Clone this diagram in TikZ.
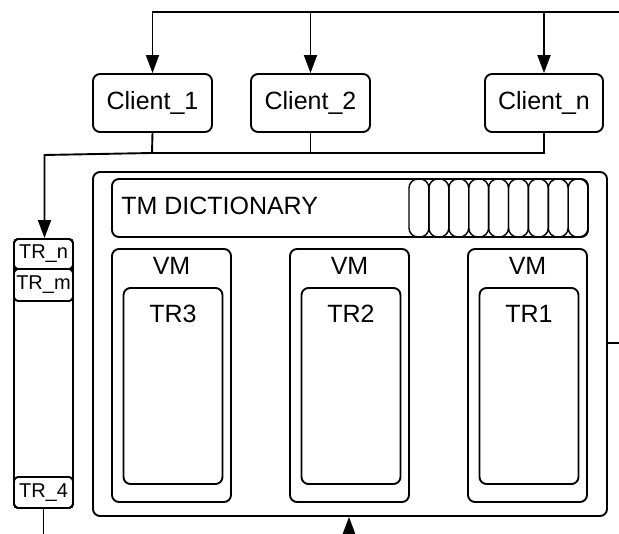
\documentclass[tikz,border=0pt]{standalone}
\usepackage{fontspec}
\setmainfont{Liberation Sans}
\usetikzlibrary{arrows.meta}

\tikzset{
  box/.style={draw,line width=1.9pt,rounded corners=7pt,inner sep=0pt},
  slot/.style={draw,line width=1.4pt,rounded corners=9pt,inner sep=0pt,minimum width=19.9pt,minimum height=58pt},
  wire/.style={line width=1.9pt},
  arr/.style={line width=1.9pt,-{Triangle[length=18pt,width=13pt]}},
  big/.style={font=\fontsize{25}{29}\selectfont},
  small/.style={font=\fontsize{20}{24}\selectfont}
}

\begin{document}
\begin{tikzpicture}[x=1pt,y=-1pt]
\useasboundingbox (0,0) rectangle (619,534);
\node[box,big,minimum width=119pt,minimum height=58pt] (c1) at (152.5,103) {Client\_1};
\node[box,big,minimum width=119pt,minimum height=58pt] (c2) at (310.5,103) {Client\_2};
\node[box,big,minimum width=118pt,minimum height=58pt] (cn) at (544,103) {Client\_n};
\coordinate (top) at (619,12);
\draw[arr] (top) -| (c1.north);
\draw[arr] (top) -| (c2.north);
\draw[arr] (top) -| (cn.north);
% queue on the left
\node[box,rounded corners=4pt,minimum width=59pt,minimum height=269pt] (queue) at (43.5,373.5) {};
\node[box,small,rounded corners=4pt,minimum width=59pt,minimum height=30pt] (trn) at (43.5,254) {TR\_n};
\node[box,small,rounded corners=4pt,minimum width=59pt,minimum height=32pt] (trm) at (43.5,285) {TR\_m};
\node[box,small,rounded corners=4pt,minimum width=59pt,minimum height=31pt] (trf) at (43.5,492.5) {TR\_4};
\coordinate (join) at (152,153);
\coordinate (bend) at (44.5,155);
\draw[wire] (cn.south) |- (join);
\draw[wire] (c2.south) -- (c2.south |- join);
\draw[wire] (c1.south) -- (join);
\draw[arr] (join) -- (bend) -- (bend |- trn.north);
\coordinate (out) at (43.5,534);
\draw[wire] (trf.south) -- (out);
% system
\node[box,minimum width=514pt,minimum height=344pt] (sys) at (350,344) {};
\node[box,minimum width=476pt,minimum height=58pt] (dict) at (350,208) {};
\node[anchor=west,inner sep=0pt,big] (dicttxt) at ([xshift=10pt,yshift=2pt]dict.west) {TM DICTIONARY};
\foreach \i in {0,...,8}
  \node[slot] (slot\i) at (418.95+19.9*\i,208) {};
\foreach \x/\n in {171.5/3,349.5/2,527.5/1} {
  \node[box,minimum width=119pt,minimum height=253pt] (vm\n) at (\x,375.5) {};
  \node[big,inner sep=0pt] (vmtxt\n) at (\x,265.5) {VM};
  \node[box,minimum width=99pt,minimum height=196pt] (tr\n) at (\x+1.5,386) {};
  \node[big,inner sep=0pt] (trtxt\n) at (\x+1.5,314) {TR\n};
}
\coordinate (right) at (619,343);
\draw[wire] (sys.east |- right) -- (right);
\coordinate (bot) at (349,534);
\draw[arr] (bot) -- (bot |- sys.south);
\end{tikzpicture}
\end{document}
